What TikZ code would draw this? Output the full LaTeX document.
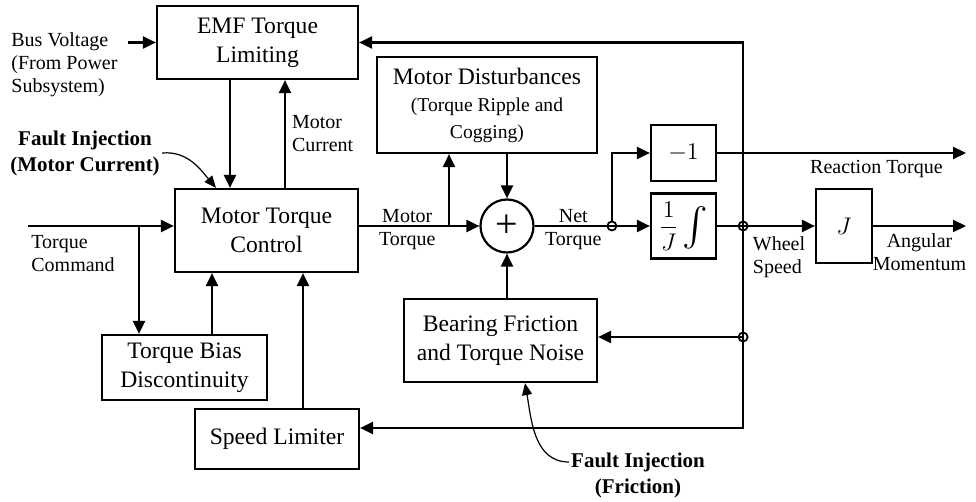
\documentclass[tikz,border=0pt]{standalone}
\usepackage{amsmath}
\usepackage{fontspec}
\setmainfont{Liberation Serif}
\usetikzlibrary{arrows.meta,positioning,calc}
\tikzset{
  % Blocks
  blk/.style={draw,line width=1.1pt,fill=white,align=center,inner sep=1pt,
              font=\fontsize{11.8}{14.5}\selectfont},
  sumc/.style={draw,line width=1.1pt,fill=white,circle,minimum size=26.5pt,inner sep=0pt},
  jn/.style={draw,line width=0.9pt,circle,minimum size=4.5pt,inner sep=0pt},
  % Connectors & labels
  fl/.style={-{Triangle[length=6.5pt,width=6pt]},line width=1.1pt},
  ln/.style={line width=1.1pt},
  fllb/.style={font=\fontsize{10}{11.5}\selectfont,inner sep=1pt,align=center},
  flt/.style={-{Triangle[length=6pt,width=5pt]},line width=0.6pt},
  fltlb/.style={font=\fontsize{10.5}{13}\selectfont\bfseries,inner sep=1pt,align=center}
}

\begin{document}
\begin{tikzpicture}[x=0.5pt,y=0.5pt]
  \useasboundingbox (0,0) rectangle (976,-502);

  % --- Nodes ---
  \node[blk,minimum width=100.5pt,minimum height=36.5pt] (emf) at (257.5,-42.5) {EMF Torque\\Limiting};
  \node[blk,minimum width=91.5pt,minimum height=41.5pt]  (mtc) at (266.5,-230.5) {Motor Torque\\Control};
  \node[blk,minimum width=82.5pt,minimum height=32.5pt]  (bias) at (184.5,-367.5) {Torque Bias\\Discontinuity};
  \node[blk,minimum width=82pt,minimum height=30pt]      (spd) at (277,-439) {Speed Limiter};

  \node[blk,minimum width=110pt,minimum height=48pt] (md) at (487,-105)
       {Motor Disturbances\\[-1pt]{\fontsize{9.8}{12.5}\selectfont (Torque Ripple and}\\[-1pt]{\fontsize{9.8}{12.5}\selectfont Cogging)}};
  \node[sumc] (sum) at (507,-226) {\fontsize{20}{20}\selectfont +};
  \node[blk,minimum width=96.5pt,minimum height=41.5pt] (brg) at (500.5,-340.5) {Bearing Friction\\and Torque Noise};

  \node[blk,minimum width=32.5pt,minimum height=28pt]   (neg) at (683.5,-153) {$-1$};
  \node[blk,minimum width=32.5pt,minimum height=32.5pt,inner sep=0pt] (integ) at (683.5,-226)
       {$\dfrac{1}{J}\,\vcenter{\hbox{\scalebox{1.6}{$\int$}}}$};
  \node[blk,minimum width=28pt,minimum height=37pt]     (jbox) at (844,-226) {$J$};

  % Inputs, outputs & fault labels
  \node[fllb,anchor=west,align=left] (busv) at (9,-65) {Bus Voltage\\(From Power\\Subsystem)};
  \coordinate (tcin) at (28,-226);
  \node[fllb,anchor=north west,align=left] (tclb) at (29,-233) {Torque\\Command};
  \node[fltlb] (fimc) at (85,-153) {Fault Injection\\(Motor Current)};
  \node[fltlb] (fifr) at (638,-475) {Fault Injection\\(Friction)};
  \coordinate (rtend) at (966,-153);
  \coordinate (amend) at (966,-226);

  % Junctions
  \coordinate (ntj) at ([xshift=-19pt]integ.west |- sum.east);
  \coordinate (wsj) at ([xshift=13pt]integ.east |- jbox.west);
  \coordinate (brj) at ([yshift=1.75pt]wsj |- brg.east);

  % --- Left side: limiting & command ---
  \draw[fl] ([xshift=4pt]busv.east |- emf.west) -- (emf.west);
  \draw[fl] ([xshift=-13.75pt]emf.south) -- ([xshift=-13.75pt]emf.south |- mtc.north);
  \draw[fl] ([xshift=13.75pt]emf.south |- mtc.north)
        -- node[fllb,right=2pt,align=left] (mclb) {Motor\\Current} ([xshift=13.75pt]emf.south);
  \draw[flt] (fimc.east) to[out=5,in=130] ([xshift=-25.25pt]mtc.north);

  \draw[fl] (tcin) -- (tcin -| mtc.west);
  \draw[fl] ([xshift=-22.75pt]bias.north |- tcin) -- ([xshift=-22.75pt]bias.north);
  \draw[fl] ([xshift=13.75pt]bias.north) -- ([xshift=13.75pt]bias.north |- mtc.south);
  \draw[fl] ([xshift=13pt]spd.north) -- ([xshift=13pt]spd.north |- mtc.south);

  % --- Torque summation ---
  \draw[fl] (mtc.east |- sum.west) -- node[fllb,pos=0.4,above] (mtlb1) {Motor}
        node[fllb,pos=0.4,below=1.5pt] (mtlb2) {Torque} (sum.west);
  \draw[fl] ([xshift=-19pt]md.south |- sum.west) -- ([xshift=-19pt]md.south);
  \draw[fl] (md.south -| sum.north) -- (sum.north);
  \draw[fl] (brg.north -| sum.south) -- (sum.south);
  \draw[flt] ([yshift=6.5pt]fifr.west) to[out=180,in=-80] ([xshift=12.25pt]brg.south);

  % --- Net torque to wheel ---
  \node[jn] (ntjc) at (ntj) {};
  \draw[ln] (sum.east) -- node[fllb,above] (ntlb1) {Net}
        node[fllb,below=1.5pt] (ntlb2) {Torque} (ntj);
  \draw[fl] (ntj) -- (integ.west);
  \draw[fl] (ntjc.north) |- (neg.west);
  \draw[fl] (neg.east) -- node[fllb,pos=0.64,below=2pt] (rtlb) {Reaction Torque} (rtend);
  \draw[fl] (integ.east) -- (jbox.west);
  \node[fllb,below=4pt,align=left] (wslb) at ($(wsj)!0.5!(jbox.west)$) {Wheel\\Speed};
  \draw[fl] (jbox.east) -- node[fllb,below=2.5pt] (amlb) {Angular\\Momentum} (amend);

  % --- Wheel speed feedback bus ---
  \draw[fl] (wsj) |- (emf.east);
  \draw[fl] (wsj) |- ([yshift=5.5pt]spd.east);
  \draw[fl] (brj) -- ([yshift=1.75pt]brg.east);
  \node[jn] (wsjc) at (wsj) {};
  \node[jn] (brjc) at (brj) {};
\end{tikzpicture}
\end{document}
